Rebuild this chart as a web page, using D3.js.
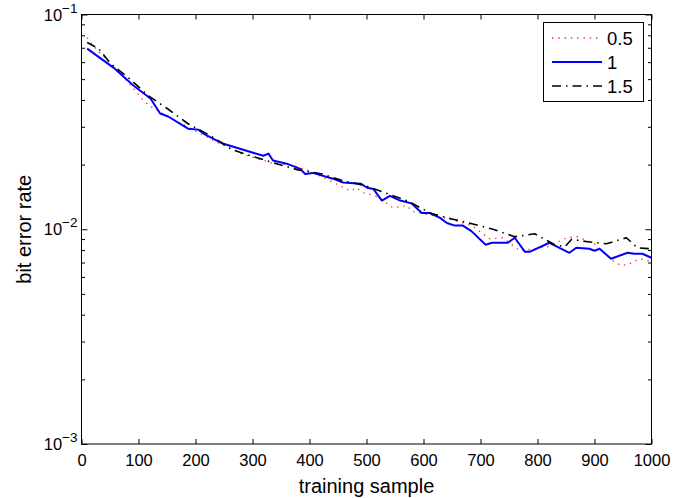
<!DOCTYPE html>
<html>
<head>
<meta charset="utf-8">
<script src="https://cdn.jsdelivr.net/npm/d3@7"></script>
<style>
  body { margin: 0; background: #fff; }
  text { font-family: "Liberation Sans", Arial, Helvetica, sans-serif; fill: #000; }
</style>
</head>
<body>
<div id="main"></div>
<script>
const width = 686;
const height = 498;

// data
const samples05 = [10,20,37,67,109,119,165,212,243,280,333,370,401,440,471,483,494,515,536,546,571,580,616,655,685,716,739,769,818,851,870,900,918,932,947,961,979,995];
const ber05 = [0.0781,0.0717,0.0644,0.0537,0.0397,0.0376,0.0320,0.0276,0.0250,0.0225,0.0204,0.0198,0.0187,0.0166,0.0151,0.0156,0.0148,0.0143,0.0132,0.0126,0.0129,0.0121,0.0116,0.0110,0.0104,0.00903,0.00913,0.00794,0.00829,0.00913,0.00923,0.00856,0.00769,0.00713,0.00676,0.00690,0.00729,0.00713];

const samples1 = [10,56,91,121,138,152,187,205,217,249,278,301,319,328,336,360,384,392,406,441,459,490,501,512,527,541,559,579,597,611,629,641,655,669,684,709,720,748,760,778,786,821,856,868,891,900,909,929,958,970,984,1000];
const ber1 = [0.0694,0.0566,0.0467,0.0406,0.0346,0.0335,0.0294,0.0291,0.0276,0.0250,0.0237,0.0227,0.0220,0.0225,0.0209,0.0202,0.0191,0.0181,0.0183,0.0172,0.0165,0.0163,0.0156,0.0154,0.0136,0.0143,0.0136,0.0132,0.0119,0.0119,0.0113,0.0107,0.0104,0.0104,0.0098,0.00847,0.00865,0.00865,0.00913,0.00785,0.00785,0.00865,0.00777,0.00820,0.00811,0.00794,0.00811,0.00729,0.00777,0.00769,0.00769,0.00737];

const samples15 = [10,30,51,84,117,151,187,226,264,301,342,380,422,459,497,538,576,611,648,685,722,760,795,830,848,860,888,921,956,975,1000];
const ber15 = [0.0741,0.0694,0.0591,0.0503,0.0419,0.0364,0.0310,0.0273,0.0235,0.0218,0.0202,0.0189,0.0181,0.0168,0.0160,0.0146,0.0134,0.0119,0.0112,0.0106,0.0100,0.00923,0.00953,0.00847,0.00829,0.00898,0.00874,0.00856,0.00913,0.00820,0.00811];

const xTicks = [0,100,200,300,400,500,600,700,800,900,1000];
const yMajor = [1e-3, 1e-2, 1e-1];
const yExp = ['\u22123', '\u22122', '\u22121'];
const legendLabels = ['0.5', '1', '1.5'];

const series = [
  {name: legendLabels[0], x: samples05, y: ber05, color: '#ff2020', width: 1.3, dash: '1.3,5'},
  {name: legendLabels[1], x: samples1, y: ber1, color: '#0000ff', width: 2, dash: null},
  {name: legendLabels[2], x: samples15, y: ber15, color: '#000', width: 1.6, dash: '9,5,1.5,5'}
];

const pLeft = 81.5, pRight = 651.5, pTop = 14.5, pBottom = 444;

const svg = d3.select('#main')
    .append('svg')
    .attr('width', width)
    .attr('height', height);

const x = d3.scaleLinear().domain([0, 1000]).range([pLeft, pRight]);
const y = d3.scaleLog().domain([1e-3, 1e-1]).range([pBottom, pTop]);

// minor log ticks 2..9 in each decade
const yMinor = [];
[1e-3, 1e-2].forEach(d => { for (let k = 2; k <= 9; k++) yMinor.push(d * k); });

// axes (ticks point inward, mirrored on top/right)
const xb = svg.append('g').attr('transform', `translate(0,${pBottom})`)
    .call(d3.axisBottom(x).tickValues(xTicks).tickSizeInner(-5).tickSizeOuter(0).tickPadding(10).tickFormat(d3.format('d')));
const xt = svg.append('g').attr('transform', `translate(0,${pTop})`)
    .call(d3.axisTop(x).tickValues(xTicks).tickSizeInner(-5).tickSizeOuter(0).tickFormat(''));
const yl = svg.append('g').attr('transform', `translate(${pLeft},0)`)
    .call(d3.axisLeft(y).tickValues(yMajor).tickSizeInner(-6).tickSizeOuter(0).tickFormat(''));
const yr = svg.append('g').attr('transform', `translate(${pRight},0)`)
    .call(d3.axisRight(y).tickValues(yMajor).tickSizeInner(-6).tickSizeOuter(0).tickFormat(''));
const ylm = svg.append('g').attr('transform', `translate(${pLeft},0)`)
    .call(d3.axisLeft(y).tickValues(yMinor).tickSizeInner(-3.5).tickSizeOuter(0).tickFormat(''));
const yrm = svg.append('g').attr('transform', `translate(${pRight},0)`)
    .call(d3.axisRight(y).tickValues(yMinor).tickSizeInner(-3.5).tickSizeOuter(0).tickFormat(''));

[xb, xt, yl, yr, ylm, yrm].forEach(a => {
    a.select('.domain').remove();
    a.selectAll('line').attr('stroke', '#000');
});
xb.selectAll('text').attr('font-size', 16.5).attr('font-family', '"Liberation Sans", Arial, sans-serif').attr('fill', '#000');

// frame
svg.append('rect')
    .attr('x', pLeft).attr('y', pTop)
    .attr('width', pRight - pLeft).attr('height', pBottom - pTop)
    .attr('fill', 'none').attr('stroke', '#000').attr('stroke-width', 1);

// y tick labels 10^n
yMajor.forEach((d, i) => {
    const t = svg.append('text')
        .attr('x', pLeft - 4)
        .attr('y', y(d) + 6)
        .attr('text-anchor', 'end')
        .attr('font-size', 16.5);
    t.append('tspan').text('10');
    t.append('tspan').attr('dy', -8).attr('font-size', 13.5).text(yExp[i]);
});

// lines
const line = d3.line().x(d => x(d[0])).y(d => y(d[1]));
svg.append('clipPath').attr('id', 'clip')
    .append('rect').attr('x', pLeft).attr('y', pTop).attr('width', pRight - pLeft).attr('height', pBottom - pTop);

series.forEach(s => {
    svg.append('path')
        .datum(s.x.map((v, i) => [v, s.y[i]]))
        .attr('clip-path', 'url(#clip)')
        .attr('fill', 'none')
        .attr('stroke', s.color)
        .attr('stroke-width', s.width)
        .attr('stroke-dasharray', s.dash)
        .attr('stroke-linejoin', 'round')
        .attr('d', line);
});

// axis labels
svg.append('text')
    .attr('x', (pLeft + pRight) / 2)
    .attr('y', 493)
    .attr('text-anchor', 'middle')
    .attr('font-size', 20)
    .text('training sample');

svg.append('text')
    .attr('transform', `translate(31,${(pTop + pBottom) / 2}) rotate(-90)`)
    .attr('text-anchor', 'middle')
    .attr('font-size', 20)
    .text('bit error rate');

// legend
const lg = svg.append('g');
lg.append('rect')
    .attr('x', 543.5).attr('y', 22.5).attr('width', 100).attr('height', 79)
    .attr('fill', '#fff').attr('stroke', '#000');
series.forEach((s, i) => {
    const yy = 38 + i * 24;
    lg.append('line')
        .attr('x1', 552).attr('x2', 602).attr('y1', yy).attr('y2', yy)
        .attr('stroke', s.color).attr('stroke-width', s.width)
        .attr('stroke-dasharray', s.dash);
    lg.append('text')
        .attr('x', 607).attr('y', yy + 6.5)
        .attr('font-size', 18.5)
        .text(s.name);
});
</script>
</body>
</html>
